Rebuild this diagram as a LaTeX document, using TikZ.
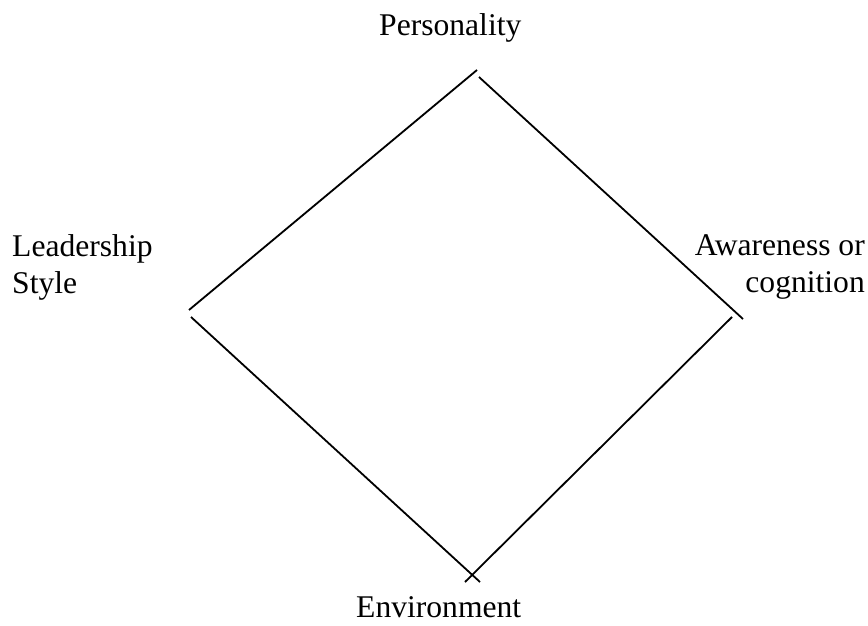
\documentclass[tikz,border=0pt]{standalone}
\usepackage{fontspec}
\setmainfont{Liberation Serif}
\begin{document}
\begin{tikzpicture}[x=1pt,y=-1pt,
  lbl/.style={inner sep=0pt, font=\fontsize{31.6}{37}\selectfont},
  edge/.style={line width=1.8pt, black}]
\useasboundingbox (0,0) rectangle (868,626);
% labels
\node[lbl, anchor=base west] (pers) at (379,36) {Personality};
\node[lbl, anchor=north west, align=left] (lead) at (12,234) {Leadership\\Style};
\node[lbl, anchor=north east, align=right] (aware) at (865,234) {Awareness or\\cognition\hspace{8pt}};
\node[lbl, anchor=base west] (env) at (356,617) {Environment};
% line end points
\coordinate (a1) at (189,310);
\coordinate (a2) at (477,70);
\coordinate (b1) at (479,77);
\coordinate (b2) at (743,319);
\coordinate (c1) at (732,317);
\coordinate (c2) at (465,582);
\coordinate (d1) at (191,317);
\coordinate (d2) at (480,582);
% lines
\draw[edge] (a1) -- (a2);
\draw[edge] (b1) -- (b2);
\draw[edge] (c1) -- (c2);
\draw[edge] (d1) -- (d2);
\end{tikzpicture}
\end{document}
